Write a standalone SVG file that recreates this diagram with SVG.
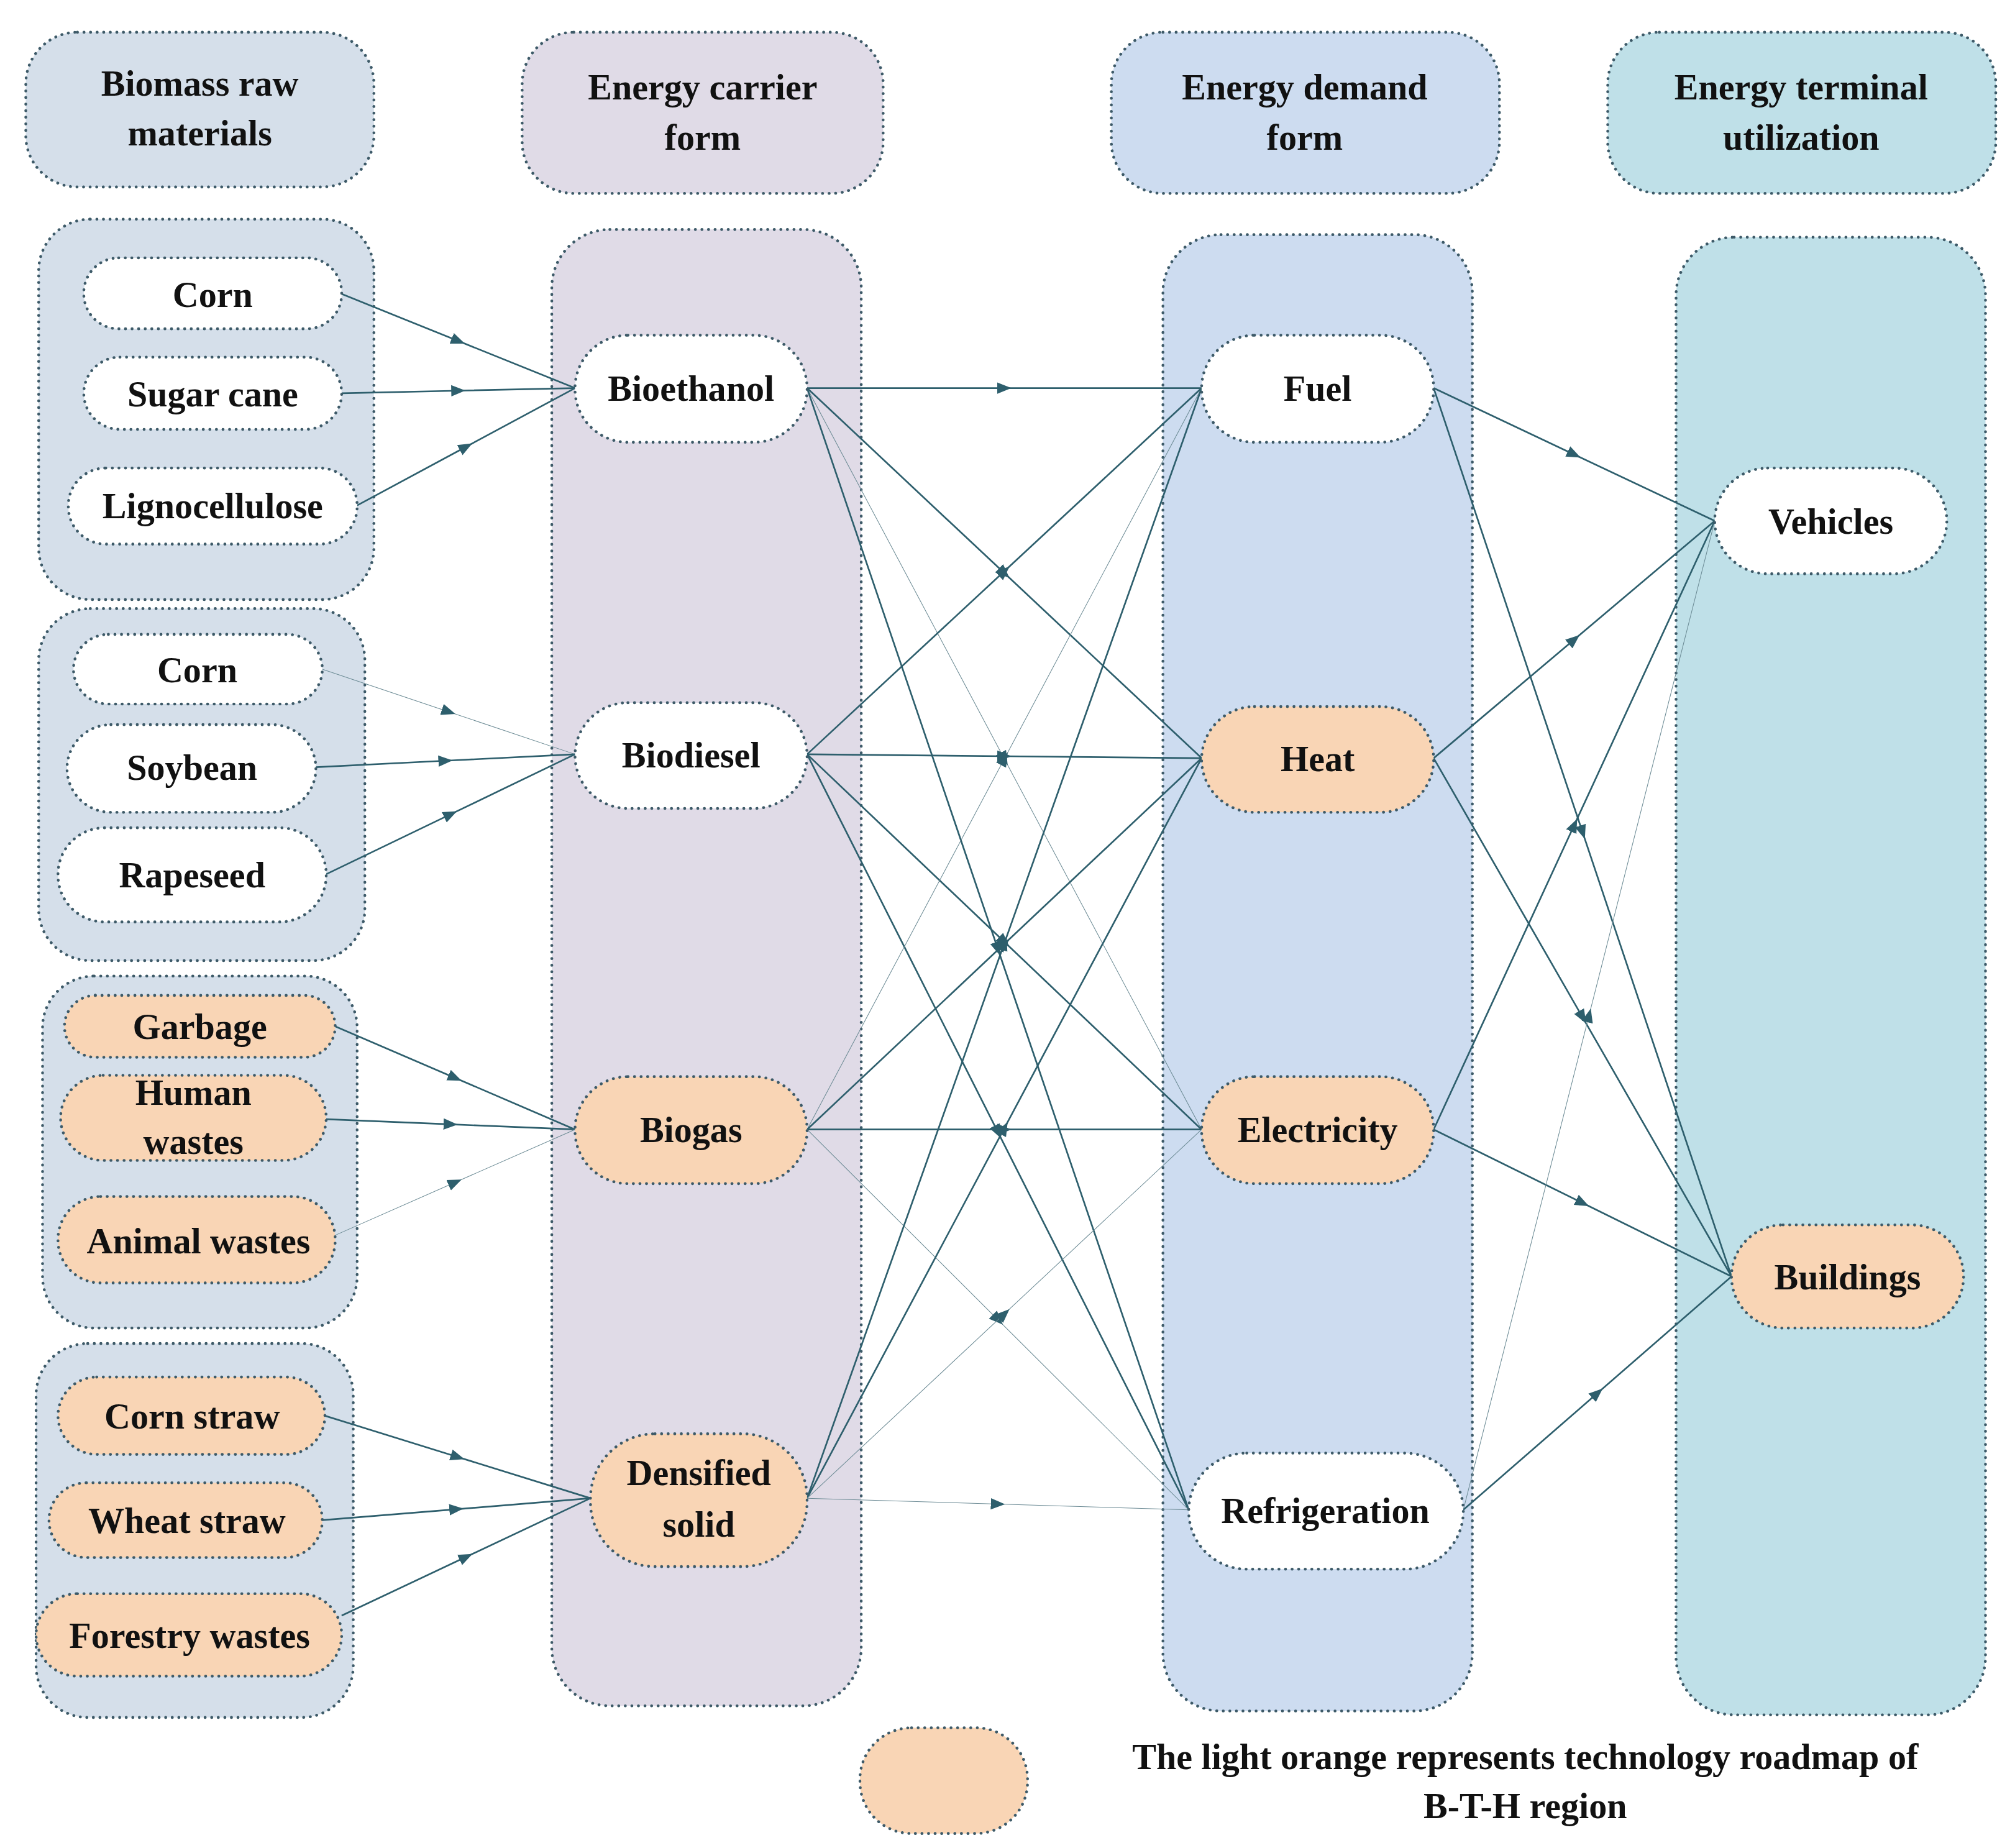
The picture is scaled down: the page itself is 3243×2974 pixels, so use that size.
<svg xmlns="http://www.w3.org/2000/svg" width="3243" height="2974" viewBox="0 0 3243 2974">
<style>
.b{stroke:#3d5a68;stroke-width:2.2;stroke-dasharray:0.1 5;stroke-linecap:round}
.c1{fill:#d5dfea}.c2{fill:#e0dbe7}.c3{fill:#cddcf0}.c4{fill:#bfe0e8}
.w{fill:#ffffff}.o{fill:#f9d5b5}
text{font-family:"Liberation Serif","Times New Roman",serif;font-weight:bold;font-size:28px;fill:#111;text-anchor:middle}
.e{stroke:#2e5f6d;stroke-width:1.3;fill:none;marker-mid:url(#a)}
.t{stroke:#6b8a94;stroke-width:0.5}
</style>
<defs>
<marker id="a" viewBox="0 0 10 10" refX="5" refY="5" markerWidth="11" markerHeight="11" markerUnits="userSpaceOnUse" orient="auto"><path d="M0,1 L10,5 L0,9 z" fill="#2e5f6d"/></marker>
</defs>
<rect width="3243" height="2974" fill="#fff"/>
<g transform="scale(2.075)">
<g id="bg">
<rect class="b c1" x="20" y="25" width="270" height="120" rx="40"/>
<rect class="b c2" x="405" y="25" width="280" height="125" rx="40"/>
<rect class="b c3" x="862" y="25" width="301" height="125" rx="40"/>
<rect class="b c4" x="1247" y="25" width="301" height="125" rx="40"/>
<rect class="b c1" x="30" y="170" width="260" height="295" rx="40"/>
<rect class="b c1" x="30" y="472" width="253" height="273" rx="40"/>
<rect class="b c1" x="33" y="757" width="244" height="273" rx="40"/>
<rect class="b c1" x="28" y="1042" width="246" height="290" rx="40"/>
<rect class="b c2" x="428" y="178" width="240" height="1145" rx="45"/>
<rect class="b c3" x="902" y="182" width="240" height="1145" rx="45"/>
<rect class="b c4" x="1300" y="184" width="240" height="1146" rx="45"/>
<text x="155" y="74">Biomass raw</text><text x="155" y="113">materials</text>
<text x="545" y="77">Energy carrier</text><text x="545" y="116">form</text>
<text x="1012" y="77">Energy demand</text><text x="1012" y="116">form</text>
<text x="1397" y="77">Energy terminal</text><text x="1397" y="116">utilization</text>
</g>
<g id="edges">
<polyline class="e" points="265,228 355.5,264.5 446,301"/>
<polyline class="e" points="265,305 355.5,303 446,301"/>
<polyline class="e" points="277,392 361.5,346.5 446,301"/>
<polyline class="e t" points="250,519 348,552 446,585"/>
<polyline class="e" points="245,595 345.5,590 446,585"/>
<polyline class="e" points="253,678 349.5,631.5 446,585"/>
<polyline class="e" points="260,796 353,836 446,876"/>
<polyline class="e" points="253,868 349.5,872 446,876"/>
<polyline class="e t" points="260,958 353,917 446,876"/>
<polyline class="e" points="252,1098 355,1130 458,1162"/>
<polyline class="e" points="250,1179 354,1170.5 458,1162"/>
<polyline class="e" points="265,1253 361.5,1207.5 458,1162"/>
<polyline class="e" points="626,301 779,301 932,301"/>
<polyline class="e" points="626,301 779,444.5 932,588"/>
<polyline class="e t" points="626,301 779,588.5 932,876"/>
<polyline class="e" points="626,301 774,736 922,1171"/>
<polyline class="e" points="626,585 779,443 932,301"/>
<polyline class="e" points="626,585 779,586.5 932,588"/>
<polyline class="e" points="626,585 779,730.5 932,876"/>
<polyline class="e" points="626,585 774,878 922,1171"/>
<polyline class="e t" points="626,876 779,588.5 932,301"/>
<polyline class="e" points="626,876 779,732 932,588"/>
<polyline class="e" points="626,876 779,876 932,876"/>
<polyline class="e t" points="626,876 774,1023.5 922,1171"/>
<polyline class="e" points="626,1162 779,731.5 932,301"/>
<polyline class="e" points="626,1162 779,875 932,588"/>
<polyline class="e t" points="626,1162 779,1019 932,876"/>
<polyline class="e t" points="626,1162 774,1166.5 922,1171"/>
<polyline class="e" points="1112,301 1221,352.5 1330,404"/>
<polyline class="e" points="1112,301 1227.5,645.5 1343,990"/>
<polyline class="e" points="1112,588 1221,496 1330,404"/>
<polyline class="e" points="1112,588 1227.5,789 1343,990"/>
<polyline class="e" points="1112,876 1221,640 1330,404"/>
<polyline class="e" points="1112,876 1227.5,933 1343,990"/>
<polyline class="e t" points="1135,1171 1232.5,787.5 1330,404"/>
<polyline class="e" points="1135,1171 1239,1080.5 1343,990"/>
</g>
<g id="n-corn"><rect class="b w" x="65" y="200" width="200" height="55" rx="27"/><text x="165" y="238">Corn</text></g>
<g id="n-sugar"><rect class="b w" x="65" y="277" width="200" height="56" rx="28"/><text x="165" y="315">Sugar cane</text></g>
<g id="n-ligno"><rect class="b w" x="53" y="363" width="224" height="59" rx="29"/><text x="165" y="402">Lignocellulose</text></g>
<g id="n-corn2"><rect class="b w" x="57" y="492" width="193" height="54" rx="27"/><text x="153" y="529">Corn</text></g>
<g id="n-soy"><rect class="b w" x="52" y="562" width="193" height="68" rx="34"/><text x="149" y="605">Soybean</text></g>
<g id="n-rape"><rect class="b w" x="45" y="642" width="208" height="73" rx="36"/><text x="149" y="688">Rapeseed</text></g>
<g id="n-garbage"><rect class="b o" x="50" y="772" width="210" height="48" rx="24"/><text x="155" y="806">Garbage</text></g>
<g id="n-human"><rect class="b o" x="47" y="834" width="206" height="66" rx="33"/><text x="150" y="857">Human</text><text x="150" y="895">wastes</text></g>
<g id="n-animal"><rect class="b o" x="45" y="928" width="215" height="67" rx="33"/><text x="154" y="972">Animal wastes</text></g>
<g id="n-cornstraw"><rect class="b o" x="45" y="1068" width="207" height="60" rx="30"/><text x="149" y="1108">Corn straw</text></g>
<g id="n-wheat"><rect class="b o" x="38" y="1150" width="212" height="58" rx="29"/><text x="145" y="1189">Wheat straw</text></g>
<g id="n-forest"><rect class="b o" x="28" y="1236" width="237" height="64" rx="32"/><text x="147" y="1278">Forestry wastes</text></g>
<g id="n-bioethanol"><rect class="b w" x="446" y="260" width="180" height="83" rx="41"/><text x="536" y="311">Bioethanol</text></g>
<g id="n-biodiesel"><rect class="b w" x="446" y="545" width="180" height="82" rx="41"/><text x="536" y="595">Biodiesel</text></g>
<g id="n-biogas"><rect class="b o" x="446" y="835" width="180" height="83" rx="41"/><text x="536" y="886">Biogas</text></g>
<g id="n-densified"><rect class="b o" x="458" y="1112" width="168" height="103" rx="50"/><text x="542" y="1152">Densified</text><text x="542" y="1192">solid</text></g>
<g id="n-fuel"><rect class="b w" x="932" y="260" width="180" height="83" rx="41"/><text x="1022" y="311">Fuel</text></g>
<g id="n-heat"><rect class="b o" x="932" y="548" width="180" height="82" rx="41"/><text x="1022" y="598">Heat</text></g>
<g id="n-elec"><rect class="b o" x="932" y="835" width="180" height="83" rx="41"/><text x="1022" y="886">Electricity</text></g>
<g id="n-refrig"><rect class="b w" x="922" y="1127" width="213" height="90" rx="45"/><text x="1028" y="1181">Refrigeration</text></g>
<g id="n-vehicles"><rect class="b w" x="1330" y="363" width="180" height="82" rx="41"/><text x="1420" y="414">Vehicles</text></g>
<g id="n-buildings"><rect class="b o" x="1343" y="950" width="180" height="80" rx="40"/><text x="1433" y="1000">Buildings</text></g>
<g id="legend"><rect class="b o" x="667" y="1340" width="130" height="82" rx="40"/><text x="1183" y="1372">The light orange represents technology roadmap of</text><text x="1183" y="1410">B-T-H region</text></g>
</g>
</svg>
